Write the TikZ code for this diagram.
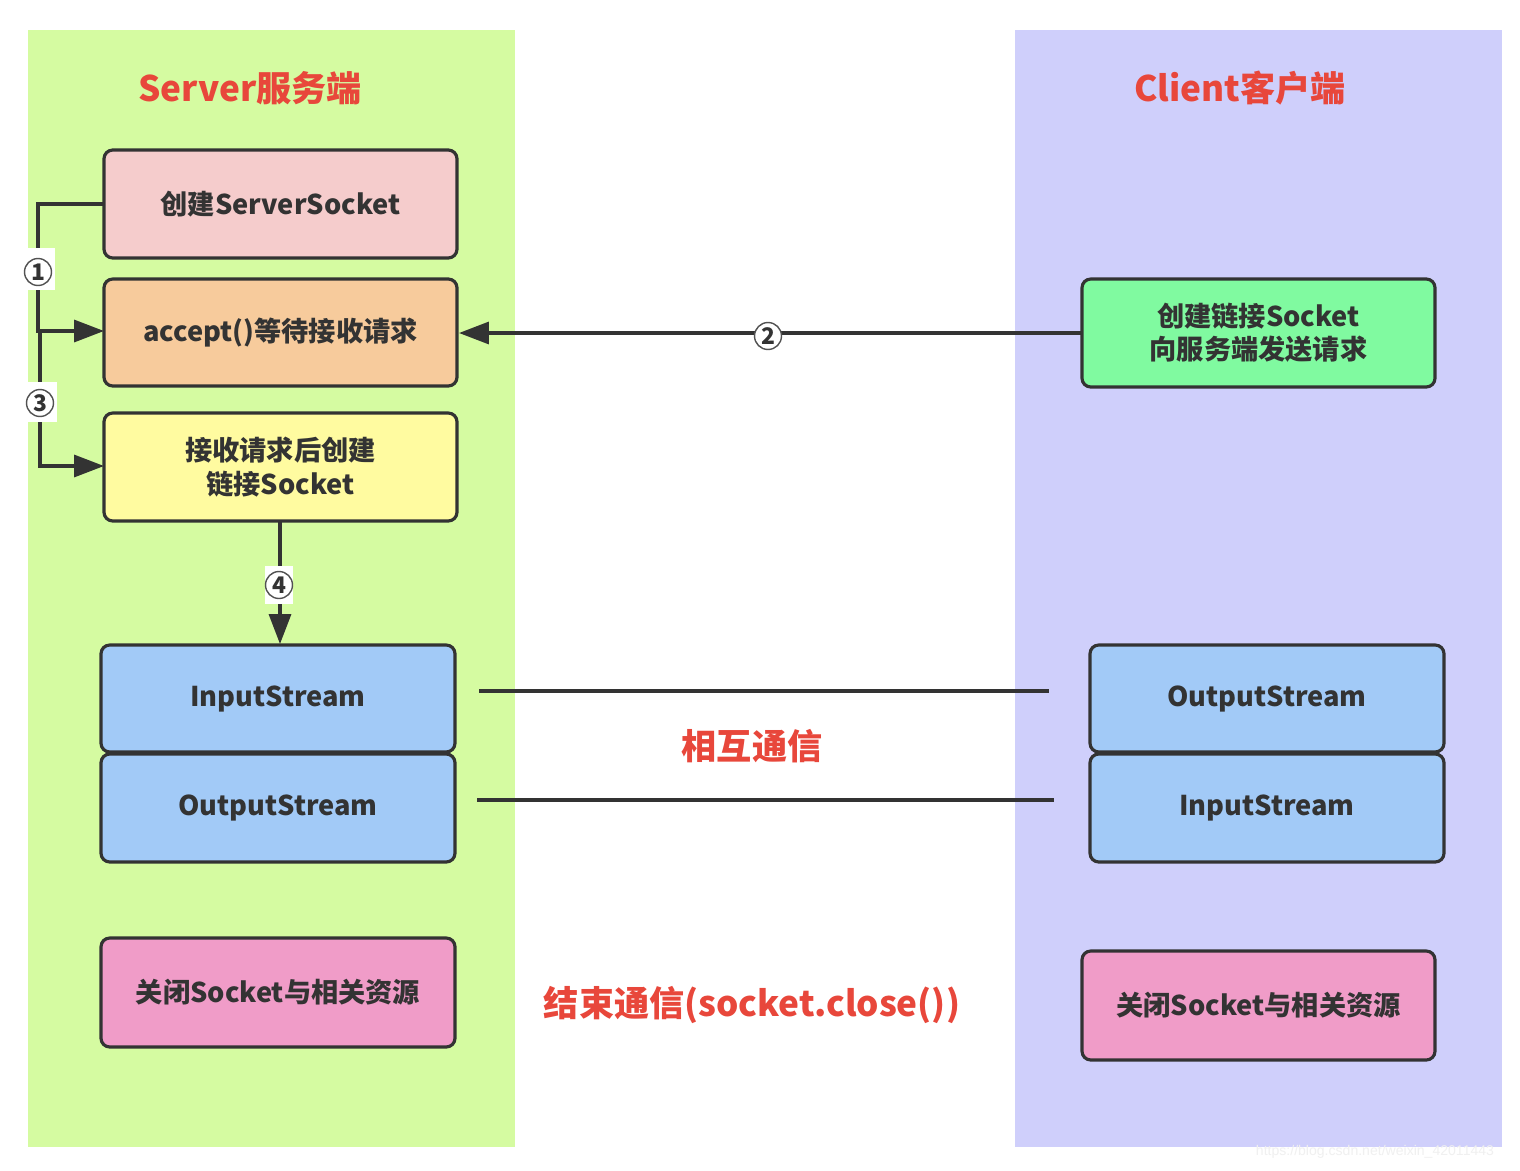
\documentclass[tikz,border=0pt]{standalone}
\usepackage{fontspec}
\setmainfont{Noto Sans CJK SC}
\newfontfamily\wmfont{Liberation Sans}
\usetikzlibrary{arrows.meta}
\definecolor{srvbg}{HTML}{D5FBA1}
\definecolor{clibg}{HTML}{CFCFFB}
\definecolor{redtxt}{HTML}{E8473B}
\definecolor{dark}{HTML}{333333}
\definecolor{cpink}{HTML}{F5CCCC}
\definecolor{corange}{HTML}{F7CB9C}
\definecolor{cyellow}{HTML}{FFFBA0}
\definecolor{cblue}{HTML}{A2CAF7}
\definecolor{cmag}{HTML}{F09CC8}
\definecolor{cgreen}{HTML}{80FAA0}
\tikzset{
  box/.style={draw=dark, line width=1.8pt, rounded corners=5pt},
  btxt/.style={text=dark, font=\fontsize{15.5}{19}\selectfont\bfseries, align=center, inner sep=0pt},
  ttl/.style={text=redtxt, font=\fontsize{20}{24}\selectfont\bfseries},
  conn/.style={draw=dark, line width=1.8pt},
  arr/.style={conn, -{Triangle[length=17pt,width=12.5pt]}},
  num/.style={circle, draw=dark!85, line width=0.8pt, fill=white, minimum size=0.54cm, inner sep=0pt,
    text=dark, font=\fontsize{13}{14}\selectfont\bfseries},
}
\begin{document}
\begin{tikzpicture}[x=0.02cm, y=-0.02cm]
\useasboundingbox (0,0) rectangle (1520,1170);
\fill[white] (0,0) rectangle (1520,1170);
% panels
\fill[srvbg] (28,30) rectangle (515,1147);
\fill[clibg] (1015,30) rectangle (1502,1147);
% titles
\node[ttl] (tsrv) at (250,88) {Server服务端};
\node[ttl] (tcli) at (1240,88) {Client客户端};
% server boxes
\path[box, fill=cpink] (104,150) rectangle (457,258);
\node[btxt] (b1) at (280.5,204) {创建ServerSocket};
\path[box, fill=corange] (104,279) rectangle (457,386);
\node[btxt] (b2) at (280.5,332.5) {accept()等待接收请求};
\path[box, fill=cyellow] (104,413) rectangle (457,521);
\node[btxt] (b3) at (280.5,467) {接收请求后创建\\链接Socket};
\path[box, fill=cblue] (101,645) rectangle (455,752);
\node[btxt] (b4) at (278,698.5) {InputStream};
\path[box, fill=cblue] (101,754) rectangle (455,862);
\node[btxt] (b5) at (278,808) {OutputStream};
\path[box, fill=cmag] (101,938) rectangle (455,1047);
\node[btxt] (b6) at (278,992.5) {关闭Socket与相关资源};
% client boxes
\path[box, fill=cgreen] (1082,279) rectangle (1435,387);
\node[btxt] (c1) at (1258.5,333) {创建链接Socket\\向服务端发送请求};
\path[box, fill=cblue] (1090,645) rectangle (1444,752);
\node[btxt] (c2) at (1267,698.5) {OutputStream};
\path[box, fill=cblue] (1090,754) rectangle (1444,862);
\node[btxt] (c3) at (1267,808) {InputStream};
\path[box, fill=cmag] (1082,951) rectangle (1435,1060);
\node[btxt] (c4) at (1258.5,1005.5) {关闭Socket与相关资源};
% anchor coordinates on box edges
\coordinate (s1w) at (104,204);
\coordinate (s2w) at (104,331);
\coordinate (s2e) at (459,333);
\coordinate (s3w) at (104,466);
\coordinate (s3s) at (280,521);
\coordinate (s4n) at (280,644);
\coordinate (c1w) at (1082,333);
\coordinate (j1) at (38,204);
\coordinate (j2) at (38,331);
\coordinate (j3) at (40,331);
\coordinate (j4) at (40,466);
% connectors
\draw[arr] (s1w) -- (j1) -- (j2) -- (s2w);
\draw[arr] (j3) -- (j4) -- (s3w);
\draw[arr] (c1w) -- (s2e);
\draw[arr] (s3s) -- (s4n);
\coordinate (l1a) at (479,691);
\coordinate (l1b) at (1049,691);
\coordinate (l2a) at (477,800);
\coordinate (l2b) at (1054,800);
\draw[conn] (l1a) -- (l1b);
\draw[conn] (l2a) -- (l2b);
% number backgrounds
\fill[white] (23,248) rectangle (55,290);
\fill[white] (23,382) rectangle (57,422);
\fill[white] (265,566) rectangle (293,604);
% numbers
\node[num] (n1) at (38,272) {1};
\node[num] (n2) at (768,336) {2};
\node[num] (n3) at (40,403) {3};
\node[num] (n4) at (279,585) {4};
% red labels
\node[ttl] (m1) at (752,746) {相互通信};
\node[ttl] (m2) at (752,1005) {结束通信(socket.close())};
% watermark
\node[text=black!6, font=\wmfont\fontsize{8}{10}\selectfont] (wm) at (1375,1152) {https://blog.csdn.net/weixin\_42011443};
\end{tikzpicture}
\end{document}
